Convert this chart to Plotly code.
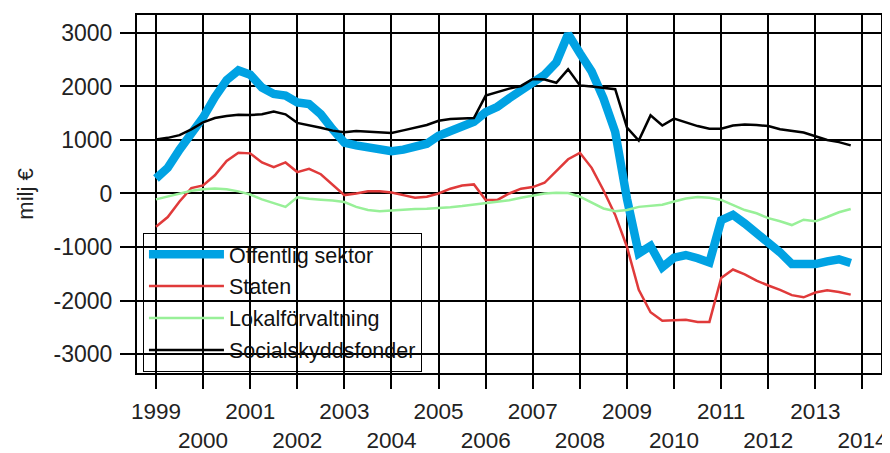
import plotly.graph_objects as go

quarters = [1999 + i * 0.25 for i in range(60)]

offentlig = [280, 480, 820, 1130, 1420, 1800, 2120, 2300, 2220, 1980, 1860, 1830,
             1700, 1670, 1480, 1200, 950, 900, 870, 840, 790, 820, 860, 930,
             1080, 1180, 1260, 1340, 1520, 1620, 1780, 1920, 2060, 2220, 2450, 2980,
             2620, 2280, 1780, 1150, -100, -1120, -980, -1380, -1200, -1150, -1210, -1290,
             -500, -400, -560, -740, -900, -1100, -1320, -1320, -1320, -1270, -1230, -1300]

staten = [-620, -440, -150, 100, 150, 340, 610, 760, 750, 580, 490, 580,
          400, 460, 360, 170, -30, 0, 40, 40, 20, -30, -80, -60,
          0, 90, 150, 170, -120, -120, 0, 90, 120, 200, 420, 640,
          760, 480, 60, -400, -1000, -1800, -2220, -2380, -2370, -2360, -2400, -2400,
          -1580, -1420, -1510, -1630, -1720, -1800, -1900, -1940, -1850, -1810, -1840, -1890]

lokal = [-110, -60, 0, 50, 80, 95, 80, 40, -20, -110, -180, -250,
         -70, -100, -115, -130, -160, -250, -310, -330, -320, -300, -290, -285,
         -275, -255, -235, -210, -180, -150, -125, -80, -35, 0, 15, 10,
         -60, -170, -280, -330, -310, -250, -230, -210, -150, -95, -65, -80,
         -120, -215, -310, -370, -460, -520, -590, -490, -520, -440, -350, -290]

social = [1010, 1040, 1090, 1200, 1330, 1410, 1450, 1470, 1465, 1480, 1530, 1480,
          1320, 1280, 1230, 1175, 1145, 1170, 1160, 1145, 1130, 1180, 1225, 1280,
          1360, 1390, 1400, 1410, 1830, 1900, 1960, 2010, 2140, 2130, 2070, 2320,
          2020, 2000, 1980, 1950, 1230, 990, 1460, 1270, 1400, 1330, 1260, 1210,
          1210, 1270, 1290, 1280, 1260, 1200, 1170, 1140, 1070, 1000, 960, 900]

years = list(range(1999, 2015))
x_labels = [str(y) if y % 2 == 1 else "<br>" + str(y) for y in years]
y_ticks = [-3000, -2000, -1000, 0, 1000, 2000, 3000]
y_labels = [str(v) for v in y_ticks]

series = [
    ("Offentlig sektor", offentlig, "#00a2e3", 8.5),
    ("Staten", staten, "#e03a3a", 2.5),
    ("Lokalförvaltning", lokal, "#98f098", 2.5),
    ("Socialskyddsfonder", social, "#000000", 2.5),
]

FONT = "Liberation Sans, Arial, sans-serif"
fig = go.Figure()
for idx, (name, vals, col, w) in enumerate(series):
    fig.add_trace(go.Scatter(x=quarters, y=vals, mode="lines", name=name,
                             line=dict(color=col, width=w), legendgroup=name,
                             legendrank=idx + 1))

axis_font = dict(family=FONT, size=23, color="#222222")
x_font = dict(family=FONT, size=22.5, color="#222222")
fig.update_layout(
    width=882, height=445,
    margin=dict(l=129, r=9, t=7, b=80, autoexpand=False),
    paper_bgcolor="white", plot_bgcolor="white",
    showlegend=True,
    legend=dict(x=0.008, y=0.392, xanchor="left", yanchor="top",
                bgcolor="rgba(0,0,0,0)", bordercolor="black", borderwidth=1,
                font=dict(family=FONT, size=21.5, color="#111111"),
                traceorder="grouped", tracegroupgap=1, itemwidth=75),
    xaxis=dict(range=[1998.597, 2014.393], tickvals=years, ticktext=x_labels,
               tickangle=0,
               ticks="outside", ticklen=14, tickwidth=2, tickcolor="black",
               showgrid=True, gridcolor="black", gridwidth=2,
               showline=True, linecolor="black", linewidth=2, mirror=True,
               zeroline=False, tickfont=x_font, ticklabelstandoff=3,
               automargin=False),
    yaxis=dict(range=[-3355, 3336], tickvals=y_ticks, ticktext=y_labels,
               ticks="outside", ticklen=15, tickwidth=2, tickcolor="black",
               showgrid=True, gridcolor="black", gridwidth=2,
               showline=True, linecolor="black", linewidth=2, mirror=True,
               zeroline=False, tickfont=axis_font, ticklabelstandoff=3,
               automargin=False,
               title=dict(text="milj €", font=dict(family=FONT, size=22, color="#222222"),
                          standoff=14)),
)
fig.write_html("out.html")
